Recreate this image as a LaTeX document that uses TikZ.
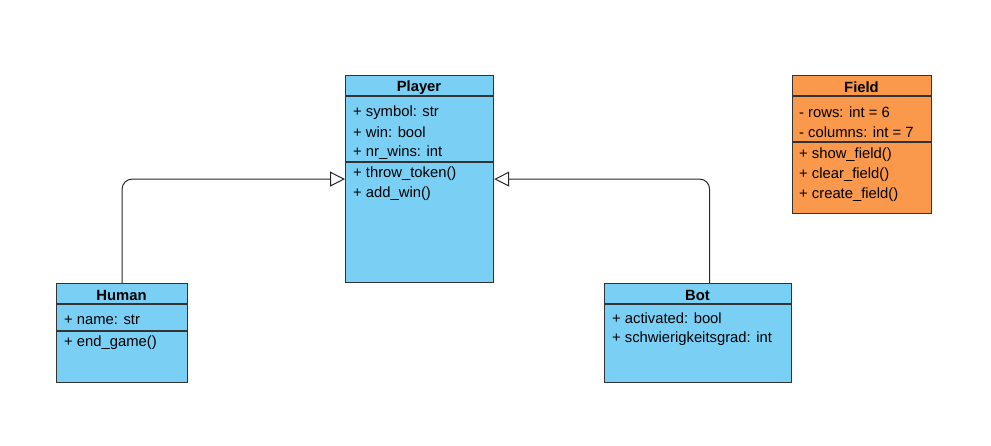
\documentclass[tikz,border=0pt]{standalone}
\usepackage{fontspec}
\setmainfont{Liberation Sans}
\usetikzlibrary{arrows.meta,positioning}

\definecolor{classblue}{RGB}{122,207,245}
\definecolor{classorange}{RGB}{250,152,76}

\tikzset{
    classbox/.style={draw=black!80, line width=1.2pt, anchor=north west, inner sep=0pt},
    classtitle/.style={font=\fontsize{14.8}{16}\selectfont\bfseries, inner sep=0pt, yshift=-2pt},
    member/.style={font=\fontsize{14.8}{16}\selectfont, anchor=west, inner sep=0pt, yshift=-1.5pt},
    divider/.style={draw=black!80, line width=1.2pt},
    inherit/.style={draw=black!85, line width=1pt, rounded corners=10pt,
        -{Triangle[open, length=15pt, width=15pt]}}
}

\begin{document}
\begin{tikzpicture}[x=1pt, y=-1pt]
    \useasboundingbox (0,0) rectangle (991,446);
    % Player:
    \node[classbox, fill=classblue, minimum width=148pt, minimum height=207pt] (player) at (345,75) {};
    \node[classtitle] (player title) at (419,85.5) {Player};
    \draw[divider] ([yshift=-21pt]player.north west) -- ([yshift=-21pt]player.north east);
    \draw[divider] ([yshift=-87pt]player.north west) -- ([yshift=-87pt]player.north east);
    \node[member] (player a1) at (353,111) {+ symbol: str};
    \node[member] (player a2) at (353,131) {+ win: bool};
    \node[member] (player a3) at (353,151) {+ nr\_wins: int};
    \node[member] (player m1) at (353,172) {+ throw\_token()};
    \node[member] (player m2) at (353,192) {+ add\_win()};
    % Human:
    \node[classbox, fill=classblue, minimum width=131pt, minimum height=99pt] (human) at (56,283) {};
    \node[classtitle] (human title) at (121.5,293.5) {Human};
    \draw[divider] ([yshift=-21pt]human.north west) -- ([yshift=-21pt]human.north east);
    \draw[divider] ([yshift=-48pt]human.north west) -- ([yshift=-48pt]human.north east);
    \node[member] (human a1) at (64,318) {+ name: str};
    \node[member] (human m1) at (64,341) {+ end\_game()};
    % Bot:
    \node[classbox, fill=classblue, minimum width=187pt, minimum height=99pt] (bot) at (604,283) {};
    \node[classtitle] (bot title) at (697.5,293.5) {Bot};
    \draw[divider] ([yshift=-21pt]bot.north west) -- ([yshift=-21pt]bot.north east);
    \node[member] (bot a1) at (612,317) {+ activated: bool};
    \node[member] (bot a2) at (612,337) {+ schwierigkeitsgrad: int};
    % Field:
    \node[classbox, fill=classorange, minimum width=139pt, minimum height=138pt] (field) at (792,75) {};
    \node[classtitle] (field title) at (861.5,85.5) {Field};
    \draw[divider] ([yshift=-21pt]field.north west) -- ([yshift=-21pt]field.north east);
    \draw[divider] ([yshift=-67pt]field.north west) -- ([yshift=-67pt]field.north east);
    \node[member] (field a1) at (799,111) {- rows: int = 6};
    \node[member] (field a2) at (799,131) {- columns: int = 7};
    \node[member] (field m1) at (799,153) {+ show\_field()};
    \node[member] (field m2) at (799,173) {+ clear\_field()};
    \node[member] (field m3) at (799,193) {+ create\_field()};
    % Inheritance:
    \draw[inherit] (human.north) |- (player.west);
    \draw[inherit] ([xshift=11.5pt]bot.north) |- (player.east);
\end{tikzpicture}
\end{document}
